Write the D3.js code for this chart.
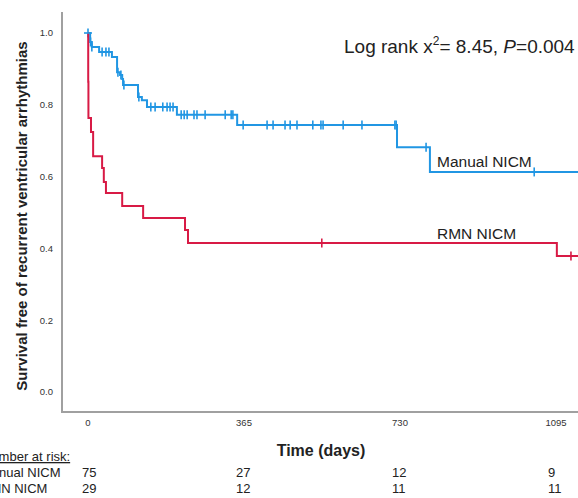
<!DOCTYPE html>
<html>
<head>
<meta charset="UTF-8">
<title>Kaplan-Meier NICM</title>
<style>
  body { margin: 0; background: #fff; }
  svg { display: block; font-family: "Liberation Sans", Arial, sans-serif; }
</style>
</head>
<body>
<script src="https://d3js.org/d3.v7.min.js"></script>
<script>
// survival curves (days, survival)
var manualTimes = [0, 5, 9, 26, 56, 68, 75, 80, 82, 117, 126, 138, 208, 349, 723, 800];
var manualSurv  = [1.0, 0.975, 0.961, 0.947, 0.933, 0.891, 0.883, 0.872, 0.855, 0.822, 0.813, 0.794, 0.772, 0.744, 0.682, 0.613];
var manualCensor = [0, 6, 9, 33, 42, 49, 70, 77, 84, 119, 147, 157, 175, 185, 192, 199, 218, 225, 232, 248, 255, 274, 321, 335, 339,
                    363, 419, 433, 461, 473, 489, 526, 545, 550, 597, 641, 718, 721, 791, 1044];

var rmnTimes = [0, 0.5, 1, 7, 12, 33, 37, 42, 80, 129, 227, 234, 1097];
var rmnSurv  = [1.0, 0.864, 0.763, 0.724, 0.657, 0.624, 0.585, 0.554, 0.518, 0.485, 0.451, 0.415, 0.379];
var rmnCensor = [547, 1130];

var maxFollowUp = 1160;

var xTicks = [0, 365, 730, 1095];
var yTicks = [0.0, 0.2, 0.4, 0.6, 0.8, 1.0];
var riskGroups = ["Manual NICM", "RMN NICM"];
var riskCounts = [[75, 27, 12, 9], [29, 12, 11, 11]];

var blue = "#2196e3", red = "#d81a45";

var W = 578, H = 498;
var svg = d3.select("body").append("svg").attr("width", W).attr("height", H);

var x = d3.scaleLinear().domain([0, 1095]).range([88, 556]);
var y = d3.scaleLinear().domain([0, 1]).range([392, 33]);

var axisLeft = 62, axisBottom = 412, axisTop = 12;

// frame (left and bottom)
svg.append("path")
  .attr("d", "M" + axisLeft + "," + axisTop + "V" + axisBottom + "H" + W)
  .attr("fill", "none").attr("stroke", "#a0a0a0").attr("stroke-width", 2);

// y tick labels
svg.append("g").selectAll("text").data(yTicks).enter().append("text")
  .attr("x", 53).attr("y", d => y(d)).attr("dy", "0.35em")
  .attr("text-anchor", "end").attr("font-size", 9.5).attr("fill", "#333")
  .text(d => d.toFixed(1));

// x tick labels
svg.append("g").selectAll("text").data(xTicks).enter().append("text")
  .attr("x", d => x(d)).attr("y", 426)
  .attr("text-anchor", "middle").attr("font-size", 9.5).attr("fill", "#333")
  .text(d => d);

// axis titles
svg.append("text")
  .attr("transform", "translate(27,216) rotate(-90)")
  .attr("text-anchor", "middle").attr("font-size", 15).attr("font-weight", "bold")
  .attr("fill", "#222")
  .text("Survival free of recurrent ventricular arrhythmias");

svg.append("text")
  .attr("x", 321).attr("y", 456).attr("text-anchor", "middle")
  .attr("font-size", 16).attr("font-weight", "bold").attr("fill", "#222")
  .text("Time (days)");

// curves
var line = d3.line().x(d => x(d[0])).y(d => y(d[1])).curve(d3.curveStepAfter);

function drawGroup(times, surv, censor, color) {
  var pts = times.map((t, i) => [t, surv[i]]);
  pts.push([maxFollowUp, surv[surv.length - 1]]);
  svg.append("path").datum(pts)
    .attr("d", line).attr("fill", "none")
    .attr("stroke", color).attr("stroke-width", 2);

  // survival at a censor time
  function at(t) {
    var s = surv[0];
    for (var i = 0; i < times.length; i++) if (times[i] <= t) s = surv[i];
    return s;
  }
  svg.append("g").selectAll("path").data(censor).enter().append("path")
    .attr("d", t => "M" + x(t) + "," + (y(at(t)) - 4.5) + "v9")
    .attr("stroke", color).attr("stroke-width", 1.6);
}

drawGroup(manualTimes, manualSurv, manualCensor, blue);
drawGroup(rmnTimes, rmnSurv, rmnCensor, red);

// start cross on the blue curve
svg.append("path")
  .attr("d", "M" + (x(0) - 4) + "," + y(1) + "h8")
  .attr("stroke", blue).attr("stroke-width", 1.6);

// curve labels
svg.append("text").attr("x", 437).attr("y", 167)
  .attr("font-size", 15.5).attr("fill", "#222").text("Manual NICM");
svg.append("text").attr("x", 437).attr("y", 239)
  .attr("font-size", 15.5).attr("fill", "#222").text("RMN NICM");

// log rank annotation
var lr = svg.append("text").attr("x", 344).attr("y", 53)
  .attr("font-size", 19).attr("fill", "#222");
lr.append("tspan").text("Log rank x");
lr.append("tspan").attr("font-size", 12).attr("dy", -8).text("2");
lr.append("tspan").attr("dy", 8).text("= 8.45, ");
lr.append("tspan").attr("font-style", "italic").text("P");
lr.append("tspan").text("=0.004");

// number at risk table (left edge runs off the picture, as in the source)
svg.append("text").attr("x", -18).attr("y", 461)
  .attr("font-size", 13).attr("fill", "#222")
  .attr("text-decoration", "underline").text("Number at risk:");

riskGroups.forEach(function(g, i) {
  var ry = 477 + i * 16;
  svg.append("text").attr("x", -19).attr("y", ry)
    .attr("font-size", 13).attr("fill", "#222").text(g);
  svg.append("g").selectAll("text").data(riskCounts[i]).enter().append("text")
    .attr("x", (d, j) => x(xTicks[j]) - (j === 0 ? 6 : 8))
    .attr("y", ry).attr("font-size", 13).attr("fill", "#222")
    .text(d => d);
});
</script>
</body>
</html>
